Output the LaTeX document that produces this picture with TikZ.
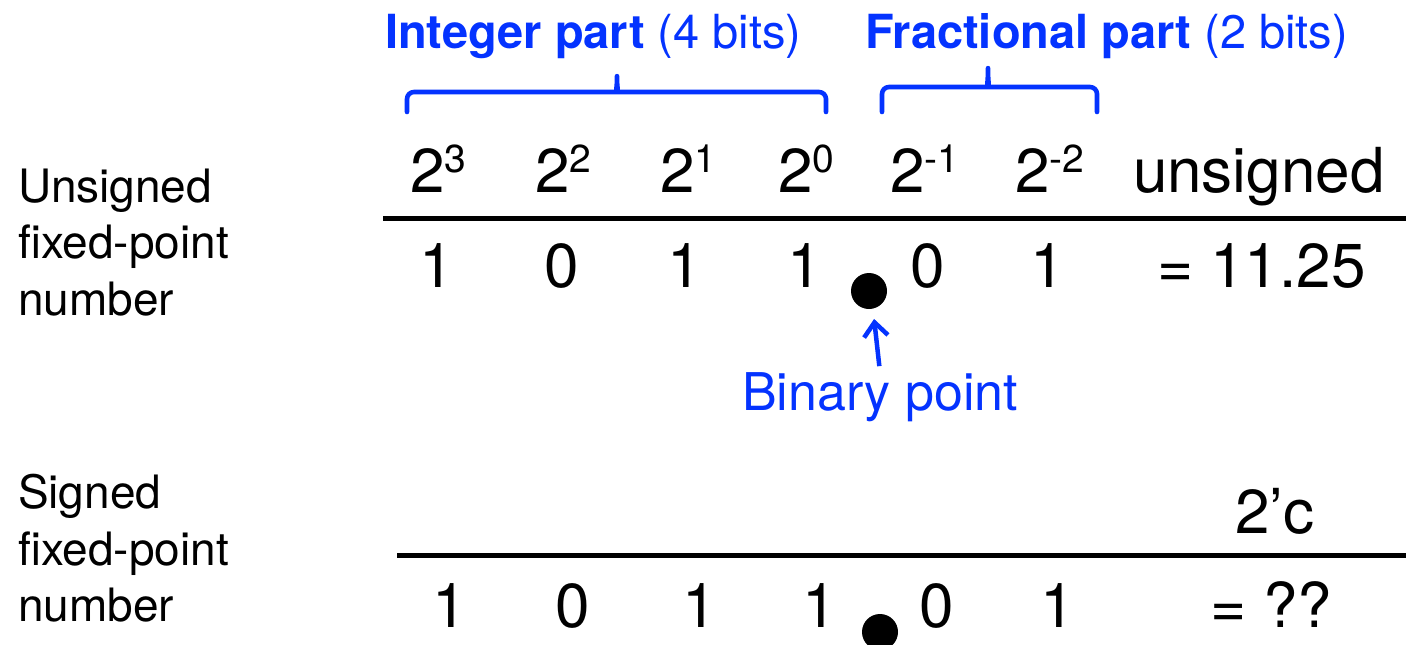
\documentclass[tikz,border=0pt]{standalone}
\usepackage{fontspec}
\setmainfont{TeX Gyre Heros}
\usetikzlibrary{arrows.meta}
\definecolor{ptblue}{RGB}{4,51,255}
\newcommand\spx[1]{\raisebox{20pt}{\fontsize{39}{41}\selectfont #1}}
\begin{document}
\begin{tikzpicture}[x=1pt,y=-1pt,
  every node/.style={inner sep=0pt, outer sep=0pt},
  lbl/.style={anchor=base west, font=\fontsize{46}{50}\selectfont},
  hdr/.style={anchor=base west, font=\fontsize{62}{66}\selectfont},
  val/.style={anchor=base, font=\fontsize{62}{66}\selectfont},
  ttl/.style={anchor=base west, text=ptblue, font=\fontsize{47}{50}\selectfont},
  bracepath/.style={draw=ptblue, line width=4.6pt, line cap=round, line join=round, rounded corners=7pt},
  rule/.style={line width=5pt},
  bdot/.style={circle, fill=black, minimum size=36pt}]
\useasboundingbox (0,0) rectangle (1406,645);

% left labels
\node[lbl] (u1) at (18,202) {Unsigned};
\node[lbl] (u2) at (18,258) {fixed-point};
\node[lbl] (u3) at (18,315) {number};
\node[lbl] (s1) at (18,508) {Signed};
\node[lbl] (s2) at (18,565) {fixed-point};
\node[lbl] (s3) at (18,621) {number};

% titles
\node[ttl] (ti) at (385,48) {\textbf{Integer part} (4 bits)};
\node[ttl] (tf) at (865,48) {\textbf{Fractional part} (2 bits)};

% braces
\draw[bracepath] (407,112) -- (407,92) -- (611,92)
  .. controls (615,92) and (617,88) .. (617,72)
  .. controls (617,88) and (619,92) .. (623,92) -- (826,92) -- (826,112);
\draw[bracepath] (882,112) -- (882,87) -- (982,87)
  .. controls (986,87) and (988,83) .. (988,64)
  .. controls (988,83) and (990,87) .. (994,87) -- (1097,87) -- (1097,112);

% header row
\node[hdr] (h3) at (410,192) {2\spx{3}};
\node[hdr] (h2) at (535,192) {2\spx{2}};
\node[hdr] (h1) at (660,192) {2\spx{1}};
\node[hdr] (h0) at (778,192) {2\spx{0}};
\node[hdr] (hm1) at (890,192) {2\spx{-1}};
\node[hdr] (hm2) at (1015,192) {2\spx{-2}};
\node[hdr] (hu) at (1133,192) {unsigned};

\coordinate (l1a) at (383,218);
\coordinate (l1b) at (1406,218);
\draw[rule] (l1a) -- (l1b);

% values row 1
\node[val] (a1) at (437,287) {1};
\node[val] (a2) at (562,287) {0};
\node[val] (a3) at (685,287) {1};
\node[val] (a4) at (805,287) {1};
\node[val] (a5) at (928,287) {0};
\node[val] (a6) at (1048,287) {1};
\node[hdr] (ar) at (1157,287) {= 11.25};
\node[bdot] (dot1) at (869,291) {};

% binary point label
\node[anchor=base, text=ptblue, font=\fontsize{52}{56}\selectfont] (bp) at (880,410) {Binary point};
\draw[ptblue, line width=4.5pt, -{Straight Barb[length=14pt,width=24pt,line width=4.5pt]}, shorten <=6pt, shorten >=10pt] (bp.north) -- ([xshift=4pt]dot1.south);

% signed row
\node[hdr] (tc) at (1235,533) {2’c};
\coordinate (l2a) at (397,555);
\coordinate (l2b) at (1406,555);
\draw[rule] (l2a) -- (l2b);

\node[val] (b1) at (450,627) {1};
\node[val] (b2) at (573,627) {0};
\node[val] (b3) at (700,627) {1};
\node[val] (b4) at (820,627) {1};
\node[val] (b5) at (937,627) {0};
\node[val] (b6) at (1058,627) {1};
\node[hdr] (br) at (1210,627) {= ??};
\node[bdot] (dot2) at (880,632) {};
\end{tikzpicture}
\end{document}
